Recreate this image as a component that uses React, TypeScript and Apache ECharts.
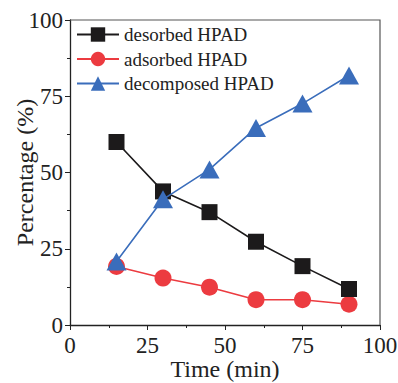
import React, { useEffect, useRef } from "react";
import * as echarts from "echarts";

const times = [15, 30, 45, 60, 75, 90];
const desorbed = [60.0, 43.8, 37.0, 27.3, 19.3, 11.8];
const adsorbed = [19.2, 15.4, 12.4, 8.3, 8.3, 6.8];
const decomposed = [20.8, 41.2, 51.0, 64.6, 72.6, 81.8];
const seriesNames = ["desorbed HPAD", "adsorbed HPAD", "decomposed HPAD"];

const font = "'Liberation Serif', serif";

export default function App() {
  const ref = useRef<HTMLDivElement>(null);
  useEffect(() => {
    if (!ref.current) return;
    const chart = echarts.init(ref.current, undefined, { renderer: "svg" });
    const pair = (ys: number[]) => times.map((t, i) => [t, ys[i]]);
    const axisBase = {
      type: "value",
      min: 0,
      max: 100,
      interval: 25,
      axisLine: { show: true, onZero: false, lineStyle: { color: "#222", width: 1.3 } },
      axisTick: { show: true, inside: false, length: 5, lineStyle: { color: "#222" } },
      minorTick: { show: true, splitNumber: 2, length: 3, lineStyle: { color: "#222" } },
      splitLine: { show: false },
      nameLocation: "middle",
      nameMoveOverlap: false,
      nameTextStyle: { color: "#222", fontFamily: font, fontSize: 24 },
    };
    chart.setOption({
      animation: false,
      backgroundColor: "#fff",
      grid: {
        left: 70,
        right: 18,
        top: 20,
        bottom: 58,
        containLabel: false,
        outerBoundsMode: "none",
      },
      legend: {
        left: 71,
        top: 20,
        orient: "vertical",
        itemWidth: 42,
        itemHeight: 18,
        itemGap: 5.5,
        textStyle: { fontFamily: font, fontSize: 19, color: "#222" },
        data: seriesNames,
      },
      xAxis: {
        ...axisBase,
        position: "bottom",
        name: "Time (min)",
        nameGap: 32,
        axisLabel: { color: "#222", fontFamily: font, fontSize: 23, margin: 9 },
      },
      yAxis: {
        ...axisBase,
        position: "left",
        name: "Percentage (%)",
        nameGap: 33,
        axisLabel: { color: "#222", fontFamily: font, fontSize: 23, margin: 7 },
      },
      series: [
        {
          name: seriesNames[0],
          type: "line",
          data: pair(desorbed),
          symbol: "rect",
          symbolSize: 16,
          itemStyle: { color: "#1c1a1b" },
          lineStyle: { color: "#1c1a1b", width: 1.6 },
          z: 3,
        },
        {
          name: seriesNames[1],
          type: "line",
          data: pair(adsorbed),
          symbol: "circle",
          symbolSize: 17,
          itemStyle: { color: "#ec3b40" },
          lineStyle: { color: "#ec3b40", width: 1.6 },
          z: 2,
        },
        {
          name: seriesNames[2],
          type: "line",
          data: pair(decomposed),
          symbol: "triangle",
          symbolSize: [20, 18],
          itemStyle: { color: "#3a6dbb" },
          lineStyle: { color: "#3a6dbb", width: 1.6 },
          z: 4,
        },
      ],
    });
    const p0 = chart.convertToPixel({ gridIndex: 0 }, [0, 0]) as number[];
    const p1 = chart.convertToPixel({ gridIndex: 0 }, [100, 100]) as number[];
    if (p0 && p1) {
      chart.setOption({
        graphic: [
          {
            type: "polyline",
            silent: true,
            z: 1,
            shape: { points: [[p0[0], p1[1]], [p1[0], p1[1]], [p1[0], p0[1]]] },
            style: { stroke: "#555", lineWidth: 1.2, fill: "none" },
          },
        ],
      });
    }
    return () => chart.dispose();
  }, []);
  return <div ref={ref} style={{ width: 398, height: 383, position: "absolute", left: 0, top: 0 }} />;
}
